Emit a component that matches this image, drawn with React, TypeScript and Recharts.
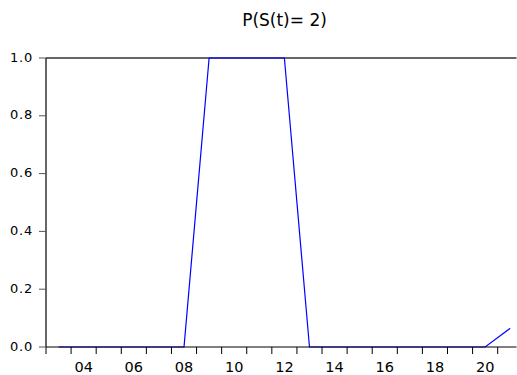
import { LineChart, Line, XAxis, YAxis, ReferenceLine } from "recharts";

const years = [
  2003, 2004, 2005, 2006, 2007, 2008, 2009, 2010, 2011, 2012,
  2013, 2014, 2015, 2016, 2017, 2018, 2019, 2020, 2021,
];
const probs = [
  0, 0, 0, 0, 0, 0, 1, 1, 1, 1,
  0, 0, 0, 0, 0, 0, 0, 0, 0.065,
];
const yearBounds = [
  2002.5, 2003.5, 2004.5, 2005.5, 2006.5, 2007.5, 2008.5, 2009.5, 2010.5, 2011.5,
  2012.5, 2013.5, 2014.5, 2015.5, 2016.5, 2017.5, 2018.5, 2019.5, 2020.5,
];
const yTicks = [0, 0.2, 0.4, 0.6, 0.8, 1.0];
const title = "P(S(t)= 2)";

const data = years.map((year, i) => ({ year, p: probs[i] }));

const W = 517;
const H = 375;
const margin = { top: 58, right: 0.5, bottom: 0, left: 0 };
const yAxisWidth = 46;
const xAxisHeight = 28;
const xDomain: [number, number] = [2002.5, 2021.25];
const plotWidth = W - margin.left - margin.right - yAxisWidth;
const pxPerYear = plotWidth / (xDomain[1] - xDomain[0]);

const font = "'DejaVu Sans', sans-serif";

function YearTick(props: any) {
  const { x, y, payload } = props;
  const year = Math.round(payload.value + 0.5);
  if (year % 2 !== 0) return <g />;
  return (
    <text
      x={x + pxPerYear / 2}
      y={y + 8}
      dy="0.71em"
      textAnchor="middle"
      fontFamily={font}
      fontSize={14.5}
      fill="#000"
    >
      {String(year).slice(2)}
    </text>
  );
}

export default function App() {
  return (
    <div style={{ position: "fixed", left: 0, top: 0, width: W, height: H, background: "#fff" }}>
      <div
        style={{
          position: "absolute",
          left: 0,
          top: 10,
          width: 569,
          textAlign: "center",
          fontFamily: font,
          fontSize: 17,
          color: "#000",
          lineHeight: "20px",
        }}
      >
        {title}
      </div>
      <LineChart width={W} height={H} data={data} margin={margin}>
        <XAxis
          dataKey="year"
          type="number"
          domain={xDomain}
          ticks={yearBounds}
          allowDataOverflow
          interval={0}
          tickSize={7}
          tickMargin={0}
          tick={<YearTick />}
          axisLine={{ stroke: "#000", strokeWidth: 1.2 }}
          tickLine={{ stroke: "#000" }}
          height={xAxisHeight}
        />
        <YAxis
          type="number"
          domain={[0, 1]}
          ticks={yTicks}
          width={yAxisWidth}
          tickSize={7}
          tickMargin={6}
          tickFormatter={(v: number) => v.toFixed(1)}
          tick={{ fontFamily: font, fontSize: 13, fill: "#000", letterSpacing: 0.8, dy: -1 }}
          axisLine={{ stroke: "#000", strokeWidth: 1.2 }}
          tickLine={{ stroke: "#555" }}
        />
        <ReferenceLine y={1} stroke="#333" strokeWidth={1.5} ifOverflow="visible" />
        <Line
          type="linear"
          dataKey="p"
          stroke="#0000ff"
          strokeWidth={1.2}
          dot={false}
          isAnimationActive={false}
        />
      </LineChart>
    </div>
  );
}
